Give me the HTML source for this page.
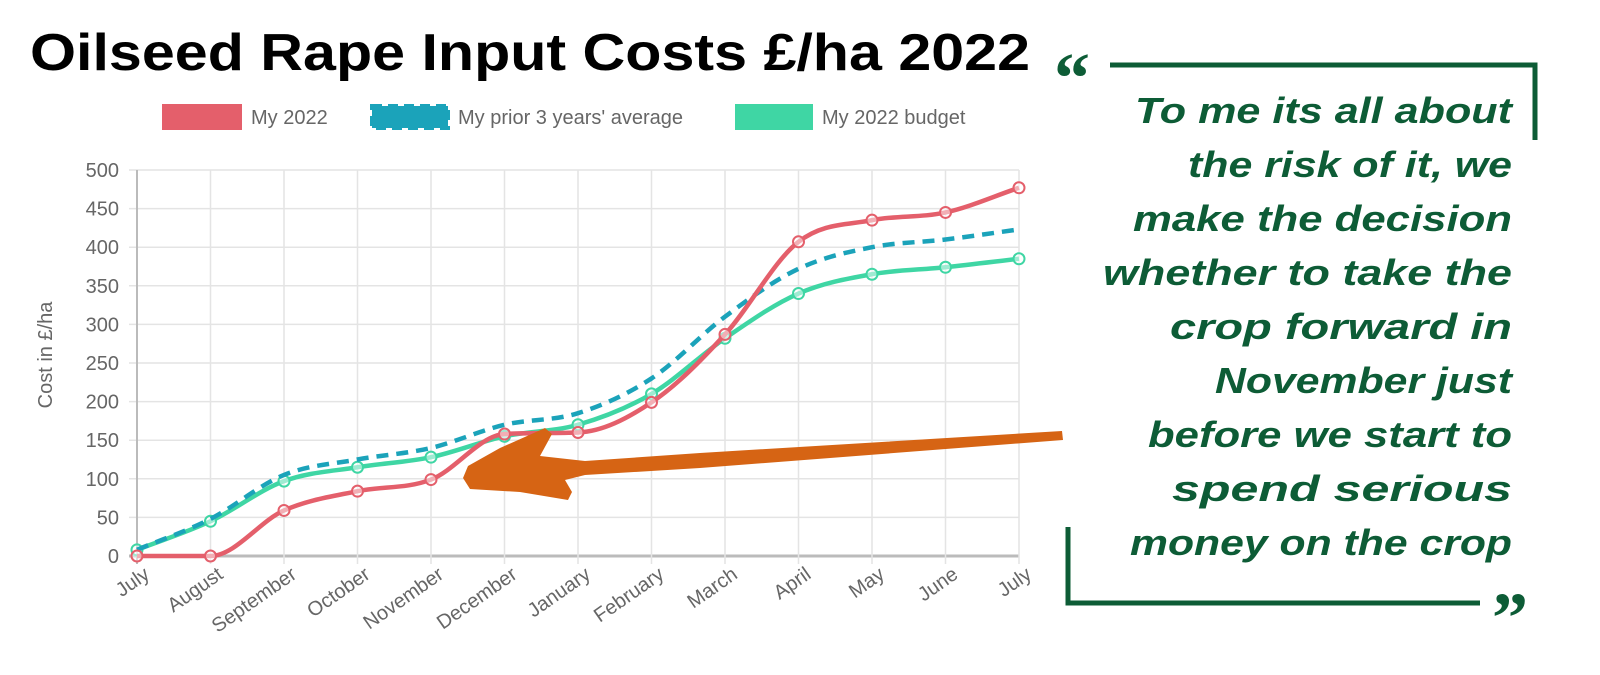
<!DOCTYPE html>
<html><head><meta charset="utf-8">
<style>
body{margin:0;width:1600px;height:675px;background:#fff;overflow:hidden;font-family:"Liberation Sans",sans-serif;}
svg{display:block}
</style></head>
<body>
<svg id="c" width="1600" height="675">
<text x="30" y="70" font-size="52" font-weight="bold" fill="#000" textLength="1000" lengthAdjust="spacingAndGlyphs">Oilseed Rape Input Costs £/ha 2022</text>
<g id="legend">
 <g><rect x="162" y="104" width="80" height="26" fill="#e45f6b"/><text x="251" y="124" font-size="20" fill="#666">My 2022</text></g>
 <g><rect x="372" y="106" width="76" height="22" fill="#1ba3ba" stroke="#1ba3ba" stroke-width="4" stroke-dasharray="10 6"/><text x="458" y="124" font-size="20" fill="#666">My prior 3 years' average</text></g>
 <g><rect x="735" y="104" width="78" height="26" fill="#3fd6a4"/><text x="822" y="124" font-size="20" fill="#666">My 2022 budget</text></g>
</g>
<g id="grid"></g>
<g id="series"></g>
<text transform="translate(52,355) rotate(-90)" text-anchor="middle" font-size="20" fill="#666">Cost in £/ha</text>
<g>
<path d="M1062,431 L1063,440 L700,468 L585,475 L565,480 L572,492 L568,500 L520,492 L470,489 L463,478 L468,466 L500,448 L545,428 L552,434 L540,456 L585,461 L700,453 Z" fill="#d66414"/>
</g>
<g>
<path d="M1110,65 H1535 V140" fill="none" stroke="#0d5c36" stroke-width="5"/>
<path d="M1068,527 V603 H1480" fill="none" stroke="#0d5c36" stroke-width="5"/>
<text x="1054" y="102" font-size="72" font-weight="bold" fill="#0d5c36" font-family="Liberation Serif,serif">“</text>
<text x="1492" y="642" font-size="72" font-weight="bold" fill="#0d5c36" font-family="Liberation Serif,serif">”</text>
<g font-size="36" font-weight="bold" font-style="italic" fill="#0d5c36" text-anchor="end">
<text x="1512" y="123" textLength="377" lengthAdjust="spacingAndGlyphs">To me its all about</text>
<text x="1512" y="177" textLength="324" lengthAdjust="spacingAndGlyphs">the risk of it, we</text>
<text x="1512" y="231" textLength="379" lengthAdjust="spacingAndGlyphs">make the decision</text>
<text x="1512" y="285" textLength="409" lengthAdjust="spacingAndGlyphs">whether to take the</text>
<text x="1512" y="339" textLength="342" lengthAdjust="spacingAndGlyphs">crop forward in</text>
<text x="1512" y="393" textLength="297" lengthAdjust="spacingAndGlyphs">November just</text>
<text x="1512" y="447" textLength="364" lengthAdjust="spacingAndGlyphs">before we start to</text>
<text x="1512" y="501" textLength="340" lengthAdjust="spacingAndGlyphs">spend serious</text>
<text x="1512" y="555" textLength="382" lengthAdjust="spacingAndGlyphs">money on the crop</text>
</g></g>
</svg>
<script>
const months=["July","August","September","October","November","December","January","February","March","April","May","June","July"];
const yTicks=[0,50,100,150,200,250,300,350,400,450,500];
const my2022=[0,0,59,84,99,158,160,199,287,407,435,445,477];
const priorAvg=[8,48,105,125,140,170,185,230,310,372,400,410,423];
const budget=[8,45,97,115,128,155,170,210,282,340,365,374,385];
const NS="http://www.w3.org/2000/svg";
const x0=137,x1=1019,y0=556,y1=170;
const X=i=>x0+i*(x1-x0)/(months.length-1);
const Y=v=>y0-(v/500)*(y0-y1);
function mk(t,a,p){const e=document.createElementNS(NS,t);for(const k in a)e.setAttribute(k,a[k]);p.appendChild(e);return e;}
const g=document.getElementById('grid');
yTicks.forEach(v=>{
 const l=mk('line',{x1:x0-8,x2:x1,y1:Y(v),y2:Y(v),stroke:v===0?'#bbb':'#e4e4e4','stroke-width':v===0?3:1.5},g);
 
 
 const t=mk('text',{x:x0-18,y:Y(v)+7,'text-anchor':'end','font-size':20,fill:'#666'},g);t.textContent=v;
 
 
});
months.forEach((m,i)=>{
 const l=mk('line',{x1:X(i),x2:X(i),y1:y1,y2:y0+8,stroke:i===0?'#bbb':'#e4e4e4','stroke-width':i===0?2:1.5},g);
 
 
 const t=mk('text',{transform:`translate(${X(i)+6},${y0+10}) rotate(-35)`,'text-anchor':'end','font-size':20,fill:'#666','dominant-baseline':'hanging'},g);t.textContent=m;
 
 
});
function path(vals){
 const p=vals.map((v,i)=>[X(i),Y(v)]);const n=p.length;
 const dl=[],m=[];
 for(let i=0;i<n-1;i++)dl.push((p[i+1][1]-p[i][1])/(p[i+1][0]-p[i][0]));
 for(let i=0;i<n;i++){
  if(i===0)m.push(dl[0]);else if(i===n-1)m.push(dl[n-2]);
  else m.push(dl[i-1]*dl[i]<=0?0:(dl[i-1]+dl[i])/2);
 }
 for(let i=0;i<n-1;i++){
  if(dl[i]===0){m[i]=0;m[i+1]=0;continue;}
  const a=m[i]/dl[i],b=m[i+1]/dl[i],s=a*a+b*b;
  if(s>9){const t=3/Math.sqrt(s);m[i]=t*a*dl[i];m[i+1]=t*b*dl[i];}
 }
 let d=`M${p[0][0]},${p[0][1]}`;
 for(let i=0;i<n-1;i++){
  const h=(p[i+1][0]-p[i][0])/3;
  d+=` C${p[i][0]+h},${p[i][1]+m[i]*h} ${p[i+1][0]-h},${p[i+1][1]-m[i+1]*h} ${p[i+1][0]},${p[i+1][1]}`;
 }return d;
}
const s=document.getElementById('series');
[[budget,'#3fd6a4',null,'series-budget'],[priorAvg,'#1ba3ba','12 8','series-prior-average'],[my2022,'#e45f6b',null,'series-my-2022']].forEach(([vals,col,dash,name])=>{
 const a={d:path(vals),fill:'none',stroke:col,'stroke-width':4.5};if(dash)a['stroke-dasharray']=dash;
 const pe=mk('path',a,s);
 
 
 if(!dash)vals.forEach((v,i)=>{
  const c=mk('circle',{cx:X(i),cy:Y(v),r:5.5,fill:'rgba(255,255,255,0.5)',stroke:col,'stroke-width':2},s);
  
  
 });
});
</script>
</body></html>
